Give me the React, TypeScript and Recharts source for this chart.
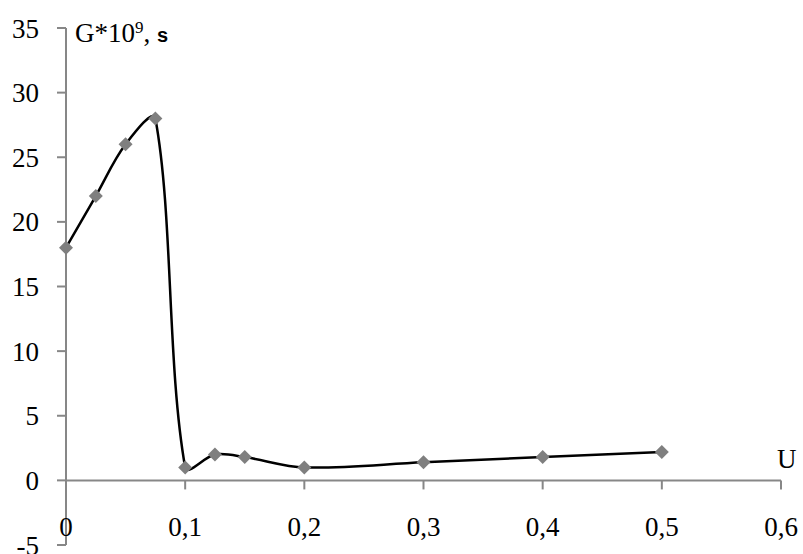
import { LineChart, Line, XAxis, YAxis, ReferenceLine } from 'recharts';

// U values and G*10^9 values
const uValues = [0, 0.025, 0.05, 0.075, 0.1, 0.125, 0.15, 0.2, 0.3, 0.4, 0.5];
const gValues = [18, 22, 26, 28, 1, 2, 1.8, 1, 1.4, 1.8, 2.2];

const xTicks = [0, 0.1, 0.2, 0.3, 0.4, 0.5, 0.6];
const yTicks = [-5, 0, 5, 10, 15, 20, 25, 30, 35];

const data = uValues.map((u, i) => ({ u, g: gValues[i] }));

const axisGray = '#878787';
const font = '"Liberation Serif", "Times New Roman", serif';

// Excel-like smoothed line: tangent along neighbours, length scaled by segment length
const excelSmooth = (context: any) => {
  let pts: number[][] = [];
  return {
    areaStart() {},
    areaEnd() {},
    lineStart() {
      pts = [];
    },
    point(x: number, y: number) {
      pts.push([+x, +y]);
    },
    lineEnd() {
      if (!pts.length) return;
      const dist = (a: number[], b: number[]) => Math.hypot(a[0] - b[0], a[1] - b[1]);
      const k = 1 / 3;
      // control points around each point
      const ctrl = pts.map((p, i) => {
        const prev = pts[i - 1] || p;
        const next = pts[i + 1] || p;
        const d0 = dist(prev, p);
        const d1 = dist(p, next);
        const sum = d0 + d1 || 1;
        const tx = next[0] - prev[0];
        const ty = next[1] - prev[1];
        return {
          before: [p[0] - tx * (d0 / sum) * k, p[1] - ty * (d0 / sum) * k],
          after: [p[0] + tx * (d1 / sum) * k, p[1] + ty * (d1 / sum) * k],
        };
      });
      context.moveTo(pts[0][0], pts[0][1]);
      for (let i = 0; i < pts.length - 1; i++) {
        const a = ctrl[i].after;
        const b = ctrl[i + 1].before;
        context.bezierCurveTo(a[0], a[1], b[0], b[1], pts[i + 1][0], pts[i + 1][1]);
      }
    },
  };
};

const Diamond = (props: any) => {
  const { cx, cy } = props;
  if (cx == null || cy == null) return null;
  const r = 7;
  return (
    <polygon
      points={`${cx},${cy - r} ${cx + r},${cy} ${cx},${cy + r} ${cx - r},${cy}`}
      fill="#7f7f7f"
    />
  );
};

const XTick = (props: any) => {
  const { x, y, payload } = props;
  return (
    <text x={x} y={y - 27} dy="0.355em" textAnchor="middle" fontSize={27} fontFamily={font} fill="#000">
      {String(payload.value).replace('.', ',')}
    </text>
  );
};

export default function App() {
  return (
    <div style={{ position: 'absolute', left: 0, top: 0, width: 803, height: 554, background: '#fff' }}>
      <LineChart width={803} height={554} data={data} margin={{ top: 28, right: 22, left: 0, bottom: 0 }}>
        <XAxis
          dataKey="u"
          type="number"
          domain={[0, 0.6]}
          ticks={xTicks}
          axisLine={false}
          tickLine={false}
          height={9}
          tick={<XTick />}
          interval={0}
        />
        <YAxis
          type="number"
          domain={[-5, 35]}
          ticks={yTicks}
          width={66}
          interval={0}
          axisLine={{ stroke: axisGray, strokeWidth: 2 }}
          tickLine={{ stroke: axisGray, strokeWidth: 2 }}
          tickSize={9}
          tickMargin={18}
          tick={{ fill: '#000', fontSize: 27, fontFamily: font }}
        />
        <ReferenceLine y={0} stroke={axisGray} strokeWidth={2} />
        {xTicks.slice(1).map((t) => (
          <ReferenceLine
            key={t}
            segment={[{ x: t, y: 0 }, { x: t, y: -0.7 }]}
            stroke={axisGray}
            strokeWidth={2}
          />
        ))}
        <Line
          dataKey="g"
          type={excelSmooth as any}
          stroke="#000"
          strokeWidth={2.5}
          dot={<Diamond />}
          activeDot={false}
          isAnimationActive={false}
        />
      </LineChart>
      <div style={{ position: 'absolute', left: 75, top: 20, fontFamily: font, fontSize: 27, lineHeight: 1, whiteSpace: 'nowrap' }}>
        G*10<sup style={{ fontSize: 17, verticalAlign: 'top', position: 'relative', top: -1 }}>9</sup>,{' '}
        <span style={{ fontFamily: '"Liberation Sans", Arial, sans-serif', fontWeight: 'bold', fontSize: 20 }}>s</span>
      </div>
      <div style={{ position: 'absolute', left: 777, top: 446, fontFamily: font, fontSize: 27, lineHeight: 1 }}>U</div>
    </div>
  );
}
